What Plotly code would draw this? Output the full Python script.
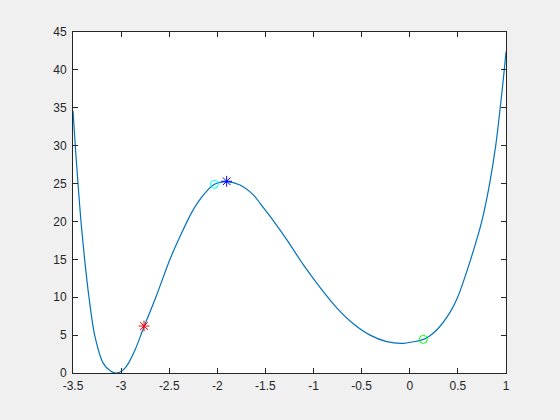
import plotly.graph_objects as go

# Curve samples
curve_x = [-3.5, -3.477, -3.448, -3.417, -3.379, -3.334, -3.275, -3.185, -3.11, -3.046,
           -2.98, -2.925, -2.85, -2.762, -2.637, -2.492, -2.388, -2.266, -2.15, -2.031,
           -1.903, -1.764, -1.626, -1.556, -1.453, -1.279, -1.107, -0.933, -0.759,
           -0.587, -0.413, -0.240, -0.067, 0.141, 0.210, 0.280, 0.418, 0.494, 0.633,
           0.748, 0.830, 0.893, 0.940, 0.982, 1.0]
curve_y = [34.6, 30.1, 25.0, 20.0, 15.0, 10.0, 5.0, 1.27, 0.27, 0.0,
           0.38, 1.27, 3.2, 6.1, 10.07, 15.0, 18.0, 21.2, 23.4, 24.9,
           25.25, 24.8, 23.5, 22.4, 20.7, 17.6, 14.3, 11.3, 8.6,
           6.5, 5.0, 4.15, 3.92, 4.44, 4.93, 5.67, 8.0, 9.9, 15.0,
           20.0, 25.0, 30.0, 35.0, 40.0, 42.4]

# Marker points
red_star = ([-2.762], [6.2])
cyan_circle = ([-2.031], [24.9])
blue_star = ([-1.903], [25.3])
green_circle = ([0.141], [4.44])

x_ticks = [-3.5, -3, -2.5, -2, -1.5, -1, -0.5, 0, 0.5, 1]
x_labels = ["-3.5", "-3", "-2.5", "-2", "-1.5", "-1", "-0.5", "0", "0.5", "1"]
y_ticks = [0, 5, 10, 15, 20, 25, 30, 35, 40, 45]

fig = go.Figure()
fig.add_trace(go.Scatter(x=curve_x, y=curve_y, mode="lines",
                         line=dict(color="#0072BD", width=1.2, shape="spline", smoothing=0.8),
                         hoverinfo="skip"))
fig.add_trace(go.Scatter(x=red_star[0], y=red_star[1], mode="markers",
                         marker=dict(symbol="asterisk-open", size=9, color="#FF0000",
                                     line=dict(color="#FF0000", width=1))))
fig.add_trace(go.Scatter(x=cyan_circle[0], y=cyan_circle[1], mode="markers",
                         marker=dict(symbol="circle-open", size=8, color="#00FFFF",
                                     line=dict(color="#00FFFF", width=1))))
fig.add_trace(go.Scatter(x=blue_star[0], y=blue_star[1], mode="markers",
                         marker=dict(symbol="asterisk-open", size=9, color="#0000FF",
                                     line=dict(color="#0000FF", width=1))))
fig.add_trace(go.Scatter(x=green_circle[0], y=green_circle[1], mode="markers",
                         marker=dict(symbol="circle-open", size=8, color="#00FF00",
                                     line=dict(color="#00FF00", width=1))))

axis_common = dict(showgrid=False, zeroline=False, ticks="inside", ticklen=5,
                   tickcolor="#262626", linecolor="#262626", linewidth=1,
                   mirror="ticks", showline=True,
                   tickfont=dict(family="Liberation Sans, Arial, sans-serif", size=12, color="#262626"))

fig.update_layout(
    width=560, height=420,
    margin=dict(l=73, r=54, t=32, b=47),
    paper_bgcolor="#F0F0F0", plot_bgcolor="#FFFFFF",
    showlegend=False,
    xaxis=dict(range=[-3.5, 1], tickvals=x_ticks, ticktext=x_labels,
               ticklabelstandoff=2, **axis_common),
    yaxis=dict(range=[0, 45], tickvals=y_ticks, ticklabelstandoff=3, **axis_common),
)

fig.write_html("out.html", config={"displayModeBar": False})

# remove default browser body margin so the figure sits at the window origin
with open("out.html", "r", encoding="utf-8") as f:
    html = f.read()
html = html.replace("<body>", '<body style="margin:0;background:#F0F0F0;overflow:hidden">', 1)
with open("out.html", "w", encoding="utf-8") as f:
    f.write(html)
